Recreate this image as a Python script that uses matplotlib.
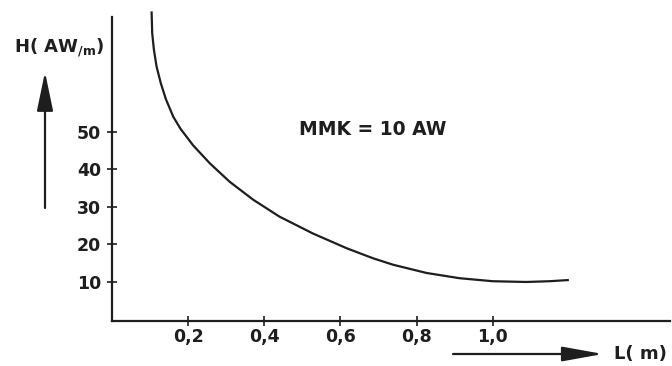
import matplotlib
matplotlib.use("Agg")
import matplotlib.pyplot as plt

plt.rcParams['font.family'] = ['DejaVu Sans']
plt.rcParams['font.weight'] = 'bold'
plt.rcParams['mathtext.fontset'] = 'dejavusans'

# values (L in m, H in AW/m)
length_m = [0.104, 0.1055, 0.110, 0.117, 0.128, 0.1415, 0.161, 0.180, 0.213,
            0.257, 0.309, 0.371, 0.440, 0.528, 0.616, 0.686, 0.738, 0.826,
            0.913, 1.0, 1.088, 1.149, 1.197]
field_h = [81.8, 76.3, 71.9, 67.4, 63.0, 58.7, 54.0, 50.8, 46.4,
           41.6, 36.7, 31.9, 27.4, 22.9, 19.0, 16.3, 14.6, 12.4,
           11.0, 10.2, 10.0, 10.2, 10.5]

x_ticks = [0.2, 0.4, 0.6, 0.8, 1.0]
x_tick_labels = ["0,2", "0,4", "0,6", "0,8", "1,0"]
y_ticks = [10, 20, 30, 40, 50]
y_tick_labels = ["10", "20", "30", "40", "50"]

ink = "#1e1e1e"

fig = plt.figure(figsize=(6.72, 3.66), dpi=100)
ax = fig.add_axes([0.1667, 0.1216, 0.830, 0.833])

ax.plot(length_m, field_h, color=ink, lw=1.6, clip_on=False,
        solid_joinstyle="round")

ax.set_xlim(0, 1.465)
ax.set_ylim(-0.53, 80.7)

for side in ("top", "right"):
    ax.spines[side].set_visible(False)
for side in ("left", "bottom"):
    ax.spines[side].set_linewidth(1.6)
    ax.spines[side].set_color(ink)

ax.set_xticks(x_ticks)
ax.set_xticklabels(x_tick_labels)
ax.set_yticks(y_ticks)
ax.set_yticklabels(y_tick_labels)
ax.tick_params(axis="both", direction="inout", length=7.5, width=1.2,
               color=ink, labelcolor=ink, labelsize=12.5)
ax.tick_params(axis="x", pad=1)
ax.tick_params(axis="y", pad=4)

ax.text(0.685, 50.5, "MMK = 10 AW", ha="center", va="center",
        fontsize=13.5, color=ink)

# axis captions with arrows, placed in figure pixels
fig.text(14 / 672, 1 - 48 / 366, r"H( AW$_{\mathbf{/m}}$)", ha="left",
         va="center", fontsize=13, color=ink)
ax.annotate("", xy=(45, 366 - 72), xytext=(45, 366 - 208),
            xycoords="figure pixels", textcoords="figure pixels",
            arrowprops=dict(arrowstyle="-|>,head_length=2.4,head_width=0.5",
                            color=ink, lw=1.6, shrinkA=0, shrinkB=0))

fig.text(614 / 672, 1 - 354 / 366, "L( m)", ha="left", va="center",
         fontsize=13, color=ink)
ax.annotate("", xy=(603, 366 - 354), xytext=(453, 366 - 354),
            xycoords="figure pixels", textcoords="figure pixels",
            arrowprops=dict(arrowstyle="-|>,head_length=2.5,head_width=0.45",
                            color=ink, lw=1.6, shrinkA=0, shrinkB=0))

fig.savefig("out.png", dpi=100)
